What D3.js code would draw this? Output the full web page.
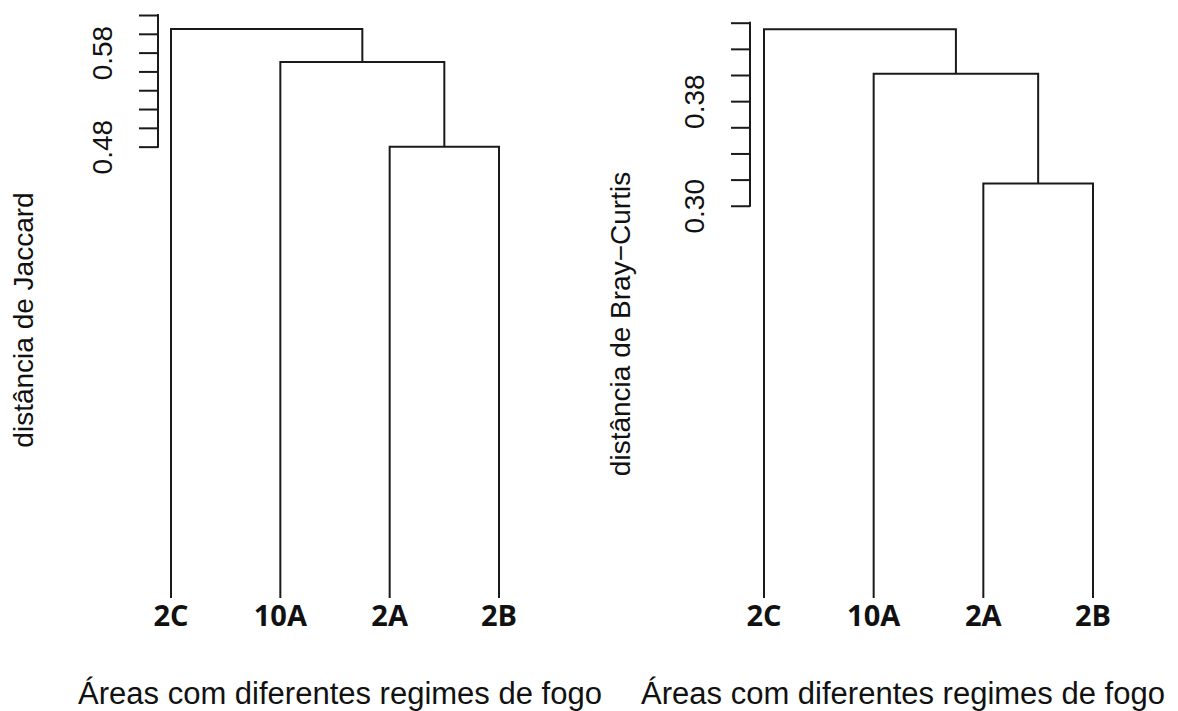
<!DOCTYPE html>
<html>
<head>
<meta charset="utf-8">
<script src="https://cdn.jsdelivr.net/npm/d3@7"></script>
<style>
  body { margin: 0; background: #fff; }
  svg { display: block; }
  .axis-title { font-family: "Liberation Sans", Arial, sans-serif; fill: #111; }
  .leaf { font-family: "Open Sans", sans-serif; font-weight: 700; fill: #111; }
</style>
</head>
<body>
<div id="chart"></div>
<script>
// leaves, in plot order
var leaves = ["2C", "10A", "2A", "2B"];
// merges like R's hclust$merge: a leaf name or the index of an earlier merge
var merges = [["2A", "2B"], ["10A", 0], ["2C", 1]];

// heights of each merge
var jaccardHeights = [0.480, 0.570, 0.605];
var brayHeights = [0.317, 0.401, 0.435];

// y axis ticks and the ones that carry a label
var jaccardTicks = [0.48, 0.50, 0.52, 0.54, 0.56, 0.58, 0.60, 0.62];
var jaccardLabels = [0.48, 0.58];
var brayTicks = [0.30, 0.32, 0.34, 0.36, 0.38, 0.40, 0.42, 0.44];
var brayLabels = [0.30, 0.38];

var width = 1178, height = 711;

var svg = d3.select('#chart')
  .append('svg')
  .attr('width', width)
  .attr('height', height);

svg.append('rect').attr('width', width).attr('height', height).attr('fill', '#fff');

function drawDendro(o) {
  var g = svg.append('g');

  var x = d3.scalePoint().domain(leaves).range(o.xRange);
  var y = d3.scaleLinear().domain([0, d3.max(o.ticks)]).range([598, o.top]);

  // position of every node: leaves at height 0
  var pos = {};
  leaves.forEach(function (l) { pos[l] = { x: x(l), h: 0 }; });
  var nodeAt = function (k) { return typeof k === 'number' ? pos['m' + k] : pos[k]; };

  merges.forEach(function (m, i) {
    var a = nodeAt(m[0]), b = nodeAt(m[1]), h = o.heights[i];
    pos['m' + i] = { x: (a.x + b.x) / 2, h: h };
    var p = d3.path();
    p.moveTo(a.x, y(a.h));
    p.lineTo(a.x, y(h));
    p.lineTo(b.x, y(h));
    p.lineTo(b.x, y(b.h));
    g.append('path')
      .attr('d', p.toString())
      .attr('fill', 'none')
      .attr('stroke', '#1a1a1a')
      .attr('stroke-width', 2);
  });

  // y axis
  var axis = d3.axisLeft(y)
    .tickValues(o.ticks)
    .tickSize(19)
    .tickFormat(function (d) { return o.labels.some(function (v) { return Math.abs(v - d) < 1e-9; }) ? d3.format('.2f')(d) : ''; });

  var ax = g.append('g')
    .attr('transform', 'translate(' + o.axisX + ',0)')
    .call(axis);
  ax.select('.domain').remove();
  ax.selectAll('.tick line').attr('stroke', '#1a1a1a').attr('stroke-width', 2);
  ax.selectAll('.tick text')
    .attr('font-family', '"Liberation Sans", Arial, sans-serif')
    .attr('font-size', 28)
    .attr('fill', '#111')
    .attr('text-anchor', 'middle')
    .attr('dy', 0)
    .attr('x', 0).attr('y', 0)
    .attr('transform', 'translate(-46,0) rotate(-90)');
  ax.append('line')
    .attr('x1', 0).attr('x2', 0)
    .attr('y1', y(d3.min(o.ticks)) + 1).attr('y2', y(d3.max(o.ticks)) - 1)
    .attr('stroke', '#1a1a1a').attr('stroke-width', 2);

  // leaf labels
  g.selectAll('.leaf')
    .data(leaves)
    .enter()
    .append('text')
      .attr('class', 'leaf')
      .attr('x', function (d) { return x(d); })
      .attr('y', 626)
      .attr('text-anchor', 'middle')
      .attr('font-size', 29)
      .text(function (d) { return d; });

  // titles
  g.append('text')
    .attr('class', 'axis-title')
    .attr('font-size', 28)
    .attr('text-anchor', 'middle')
    .attr('transform', 'translate(' + o.yTitleX + ',' + o.yTitleY + ') rotate(-90)')
    .text(o.yTitle);

  g.append('text')
    .attr('class', 'axis-title')
    .attr('font-size', 31)
    .attr('text-anchor', 'middle')
    .attr('x', o.xTitleX)
    .attr('y', 704)
    .text('Áreas com diferentes regimes de fogo');
}

drawDendro({
  heights: jaccardHeights, ticks: jaccardTicks, labels: jaccardLabels,
  xRange: [171, 499], top: 15, axisX: 158,
  yTitle: 'distância de Jaccard', yTitleX: 33, yTitleY: 320,
  xTitleX: 340
});

drawDendro({
  heights: brayHeights, ticks: brayTicks, labels: brayLabels,
  xRange: [764, 1093], top: 22.7, axisX: 750,
  yTitle: 'distância de Bray\u2212Curtis', yTitleX: 630, yTitleY: 324,
  xTitleX: 903
});
</script>
</body>
</html>
